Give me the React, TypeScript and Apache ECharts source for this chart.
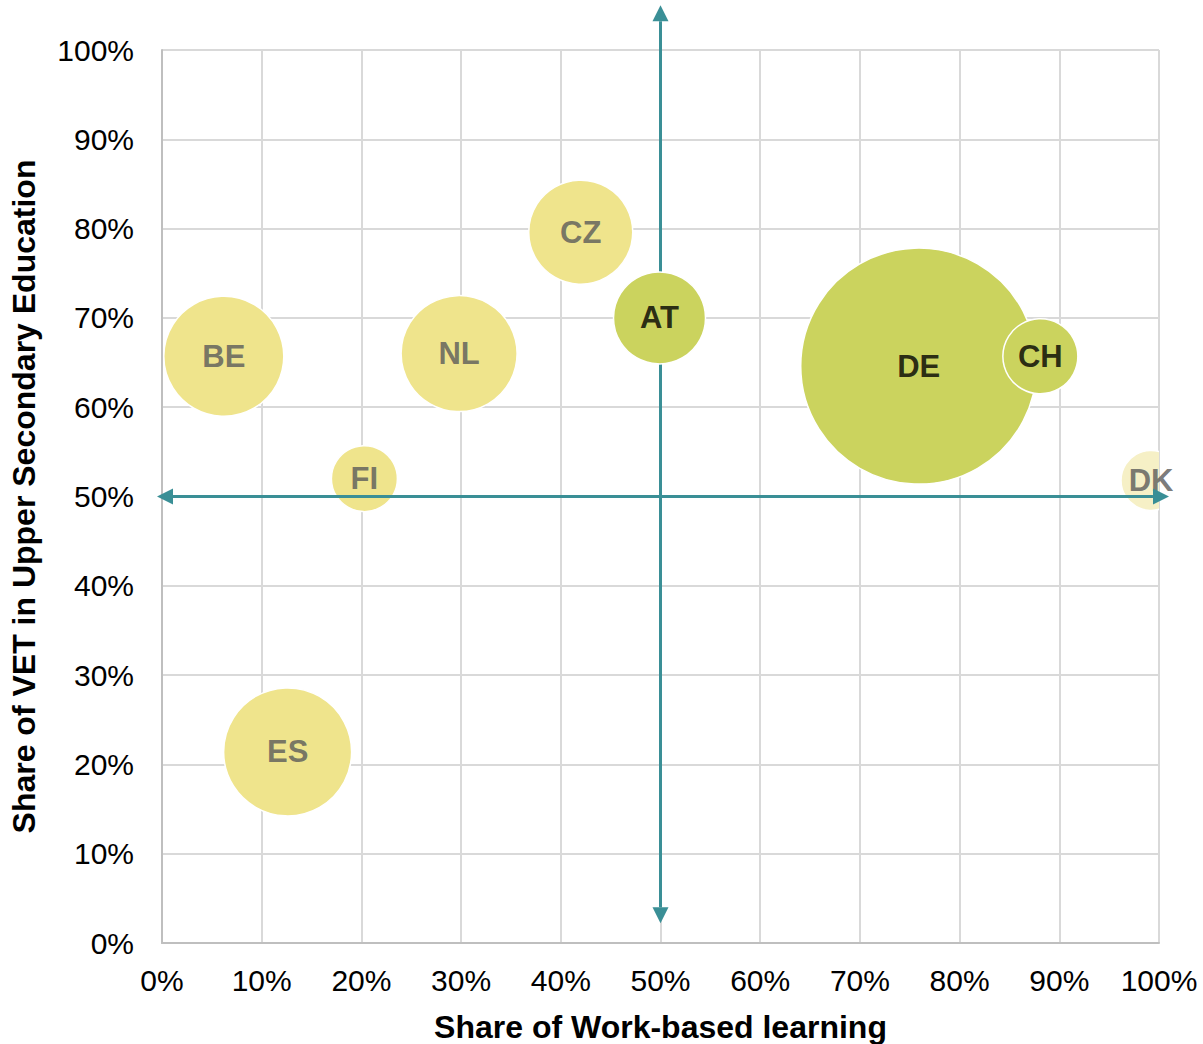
import React, { useEffect, useRef } from "react";
import * as echarts from "echarts";

const countries = ["BE", "NL", "CZ", "AT", "DE", "CH", "DK", "FI", "ES"];
const workBased = [6.2, 29.8, 42.0, 49.9, 75.9, 88.1, 99.2, 20.3, 12.6];
const vetShare = [65.7, 66.0, 79.6, 70.0, 64.6, 65.7, 51.8, 52.0, 21.4];
const bubbleSize = [120, 116, 104, 92, 236, 75, 60, 66, 128];
const groups = ["low", "low", "low", "high", "high", "high", "pale", "low", "low"];

const verticalArrow = [[50, 2.2, 50, 105.0]];
const horizontalArrow = [[-0.5, 50, 101.0, 50]];

const xTitle = "Share of Work-based learning";
const yTitle = "Share of VET in Upper Secondary Education";

const FONT = "'Liberation Sans', Arial, sans-serif";
const fillMap: Record<string, string> = { low: "#EFE48C", high: "#CBD35E", pale: "#F6F0C6" };
const labelColorMap: Record<string, string> = { low: "#595959", high: "#000000", pale: "#595959" };
const ARROW = "#3A8F96";

function arrowRender(params: any, api: any) {
  const p1 = api.coord([api.value(0), api.value(1)]);
  const p2 = api.coord([api.value(2), api.value(3)]);
  const dx = p2[0] - p1[0];
  const dy = p2[1] - p1[1];
  const len = Math.sqrt(dx * dx + dy * dy);
  const ux = dx / len;
  const uy = dy / len;
  const nx = -uy;
  const ny = ux;
  const L = 16;
  const W = 8;
  const a1 = [p1[0] + ux * L, p1[1] + uy * L];
  const a2 = [p2[0] - ux * L, p2[1] - uy * L];
  return {
    type: "group",
    children: [
      {
        type: "line",
        shape: { x1: a1[0], y1: a1[1], x2: a2[0], y2: a2[1] },
        style: { stroke: ARROW, lineWidth: 3 },
      },
      {
        type: "polygon",
        shape: {
          points: [
            [p1[0], p1[1]],
            [a1[0] + nx * W, a1[1] + ny * W],
            [a1[0] - nx * W, a1[1] - ny * W],
          ],
        },
        style: { fill: ARROW },
      },
      {
        type: "polygon",
        shape: {
          points: [
            [p2[0], p2[1]],
            [a2[0] + nx * W, a2[1] + ny * W],
            [a2[0] - nx * W, a2[1] - ny * W],
          ],
        },
        style: { fill: ARROW },
      },
    ],
  };
}

export default function App() {
  const ref = useRef<HTMLDivElement>(null);
  useEffect(() => {
    if (!ref.current) return;
    document.body.style.margin = "0";
    const chart = echarts.init(ref.current, null, { renderer: "svg" });
    const bubbleData = countries.map((c, i) => [workBased[i], vetShare[i], bubbleSize[i]]);
    const labelData = countries.map((c, i) => ({
      name: c,
      value: [workBased[i], vetShare[i]],
      label: { color: labelColorMap[groups[i]] },
    }));
    chart.setOption({
      animation: false,
      backgroundColor: "#FFFFFF",
      grid: {
        left: 162,
        right: 44,
        top: 50,
        bottom: 101,
        containLabel: false,
        outerBoundsMode: "none",
      },
      xAxis: {
        type: "value",
        min: 0,
        max: 100,
        interval: 10,
        name: xTitle,
        nameLocation: "middle",
        nameGap: 67,
        nameTextStyle: { fontSize: 32, lineHeight: 34, fontWeight: "bold", color: "#000", fontFamily: FONT },
        axisLine: { show: true, lineStyle: { color: "#BFBFBF", width: 2 } },
        axisTick: { show: false },
        axisLabel: { formatter: "{value}%", fontSize: 30, color: "#000", fontFamily: FONT, margin: 22 },
        splitLine: { show: true, lineStyle: { color: "#D9D9D9", width: 2 } },
      },
      yAxis: {
        type: "value",
        min: 0,
        max: 100,
        interval: 10,
        name: yTitle,
        nameLocation: "middle",
        nameGap: 122,
        nameTextStyle: { fontSize: 32, fontWeight: "bold", color: "#000", fontFamily: FONT },
        axisLine: { show: true, lineStyle: { color: "#BFBFBF", width: 2 } },
        axisTick: { show: false },
        axisLabel: { formatter: "{value}%", fontSize: 30, color: "#000", fontFamily: FONT, margin: 28 },
        splitLine: { show: true, lineStyle: { color: "#D9D9D9", width: 2 } },
      },
      series: [
        {
          type: "custom",
          z: 2,
          clip: false,
          silent: true,
          data: verticalArrow,
          renderItem: arrowRender,
        },
        {
          type: "custom",
          z: 3,
          clip: true,
          data: bubbleData,
          renderItem: (params: any, api: any) => {
            const p = api.coord([api.value(0), api.value(1)]);
            const d = api.value(2);
            const g = groups[params.dataIndex];
            return {
              type: "circle",
              shape: { cx: p[0], cy: p[1], r: d / 2 },
              style: { fill: fillMap[g], stroke: "#FFFFFF", lineWidth: 1.5 },
            };
          },
        },
        {
          type: "scatter",
          z: 4,
          clip: false,
          symbolSize: 1,
          itemStyle: { color: "rgba(0,0,0,0)" },
          label: {
            show: true,
            position: "inside",
            formatter: (p: any) => p.name,
            fontSize: 31,
            fontWeight: "bold",
            fontFamily: FONT,
          },
          data: labelData,
        },
        {
          type: "custom",
          z: 5,
          clip: false,
          silent: true,
          data: horizontalArrow,
          renderItem: arrowRender,
        },
      ],
    });
    return () => chart.dispose();
  }, []);
  return <div ref={ref} style={{ width: 1203, height: 1044 }} />;
}
